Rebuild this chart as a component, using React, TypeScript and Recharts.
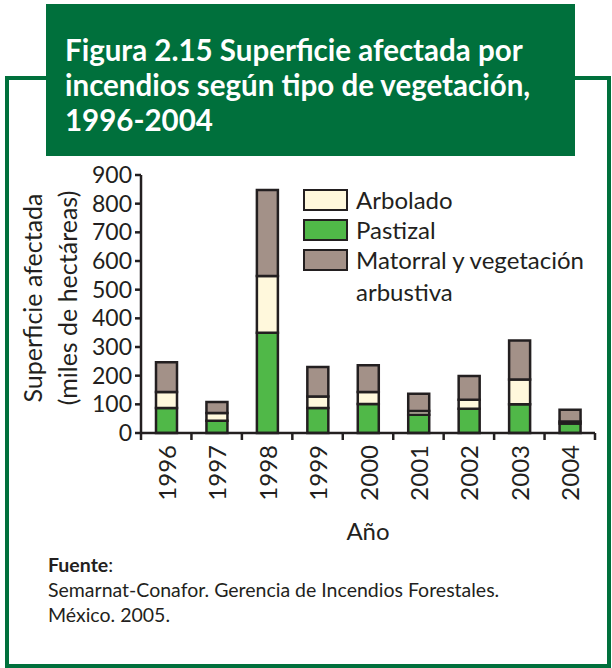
import { Bar, BarChart, Label, Legend, XAxis, YAxis } from "recharts";

const years = ["1996", "1997", "1998", "1999", "2000", "2001", "2002", "2003", "2004"];
const pastizal = [87, 43, 350, 87, 101, 64, 85, 100, 33];
const arbolado = [56, 27, 198, 40, 42, 13, 31, 87, 7];
const matorral = [104, 38, 300, 103, 93, 60, 83, 136, 41];
const yTicks = [0, 100, 200, 300, 400, 500, 600, 700, 800, 900];

const legendOrder = ["Arbolado", "Pastizal", "Matorral y vegetación arbustiva"];

const GREEN = "#00703c";
const INK = "#231f20";
const FONT = "Lato, 'Open Sans', sans-serif";

const data = years.map((year, i) => ({
  year,
  pastizal: pastizal[i],
  arbolado: arbolado[i],
  matorral: matorral[i],
}));

function YearTick(props: any) {
  const { x, y, payload, index, visibleTicksCount } = props;
  const half = payload.offset ?? 0;
  const axisY = y - 12;
  return (
    <g>
      <line x1={x - half} x2={x - half} y1={axisY} y2={axisY + 7} stroke={INK} strokeWidth={2.5} />
      {index === visibleTicksCount - 1 && (
        <line x1={x + half} x2={x + half} y1={axisY} y2={axisY + 7} stroke={INK} strokeWidth={2.5} />
      )}
      <text
        x={x}
        y={y}
        transform={`rotate(-90, ${x}, ${y})`}
        textAnchor="end"
        dominantBaseline="central"
        fill={INK}
        fontSize={24}
        fontFamily={FONT}
      >
        {payload.value}
      </text>
    </g>
  );
}

function YTitle(props: any) {
  const vb = props.viewBox || { x: 81, y: 175, width: 60, height: 258 };
  const cy = 298;
  const x1 = vb.x - 49;
  const x2 = vb.x - 14;
  return (
    <g fill={INK} fontSize={25} fontFamily={FONT} textAnchor="middle" dominantBaseline="central">
      <text x={x1} y={cy} transform={`rotate(-90, ${x1}, ${cy})`}>Superficie afectada</text>
      <text x={x2} y={cy} transform={`rotate(-90, ${x2}, ${cy})`}>(miles de hectáreas)</text>
    </g>
  );
}

function LegendBox(props: any) {
  const items = [...(props.payload || [])].sort(
    (a: any, b: any) => legendOrder.indexOf(a.value) - legendOrder.indexOf(b.value)
  );
  return (
    <div style={{ fontFamily: FONT, fontSize: 24, color: INK }}>
      {items.map((it: any) => (
        <div key={it.value} style={{ display: "flex", alignItems: "flex-start", minHeight: 30 }}>
          <span
            style={{
              width: 41,
              height: 18,
              background: it.color,
              border: `2.5px solid ${INK}`,
              marginTop: 1,
              flexShrink: 0,
            }}
          />
          <span style={{ marginLeft: 8, lineHeight: "32px", marginTop: -4, width: 245 }}>{it.value}</span>
        </div>
      ))}
    </div>
  );
}

export default function App() {
  return (
    <div style={{ position: "absolute", left: 0, top: 0, width: 612, height: 668, background: "#fff", fontFamily: FONT }}>
      <div
        style={{
          position: "absolute",
          left: 5,
          top: 76,
          width: 606,
          height: 592,
          boxSizing: "border-box",
          border: `4px solid ${GREEN}`,
        }}
      />
      <div
        style={{
          position: "absolute",
          left: 46,
          top: 4,
          width: 529,
          height: 152,
          boxSizing: "border-box",
          background: GREEN,
          color: "#fff",
          fontWeight: 700,
          fontSize: 29.5,
          lineHeight: "35px",
          padding: "28px 0 0 19px",
          whiteSpace: "nowrap",
        }}
      >
        Figura 2.15 Superficie afectada por
        <br />
        incendios según tipo de vegetación,
        <br />
        1996-2004
      </div>
      <div style={{ position: "absolute", left: 0, top: 0 }}>
        <BarChart
          width={612}
          height={668}
          data={data}
          margin={{ top: 175, right: 17, bottom: 125, left: 81 }}
          barSize={21}
        >
          <XAxis
            dataKey="year"
            height={110}
            tickLine={false}
            tickSize={0}
            tickMargin={12}
            interval={0}
            axisLine={{ stroke: INK, strokeWidth: 2.5 }}
            tick={<YearTick />}
          >
            <Label value="Año" position="insideBottom" offset={3} fill={INK} fontSize={24} fontFamily={FONT} />
          </XAxis>
          <YAxis
            width={60}
            domain={[0, 900]}
            ticks={yTicks}
            interval={0}
            tickSize={6}
            tickMargin={3}
            axisLine={{ stroke: INK, strokeWidth: 2.5 }}
            tickLine={{ stroke: INK, strokeWidth: 2.5 }}
            tick={{ fill: INK, fontSize: 23, fontFamily: FONT }}
            label={<YTitle />}
          />
          <Legend
            layout="vertical"
            align="center"
            verticalAlign="middle"
            content={<LegendBox />}
            wrapperStyle={{ left: 303, top: 188, width: 305 }}
          />
          <Bar dataKey="pastizal" name="Pastizal" stackId="a" fill="#50b848" stroke={INK} strokeWidth={2.5} isAnimationActive={false} />
          <Bar dataKey="arbolado" name="Arbolado" stackId="a" fill="#fff8dc" stroke={INK} strokeWidth={2.5} isAnimationActive={false} />
          <Bar dataKey="matorral" name="Matorral y vegetación arbustiva" stackId="a" fill="#a39188" stroke={INK} strokeWidth={2.5} isAnimationActive={false} />
        </BarChart>
      </div>
      <div style={{ position: "absolute", left: 48, top: 552, fontSize: 19.5, lineHeight: "25px", color: INK }}>
        <b>Fuente</b>:
        <br />
        Semarnat-Conafor. Gerencia de Incendios Forestales.
        <br />
        México. 2005.
      </div>
    </div>
  );
}
